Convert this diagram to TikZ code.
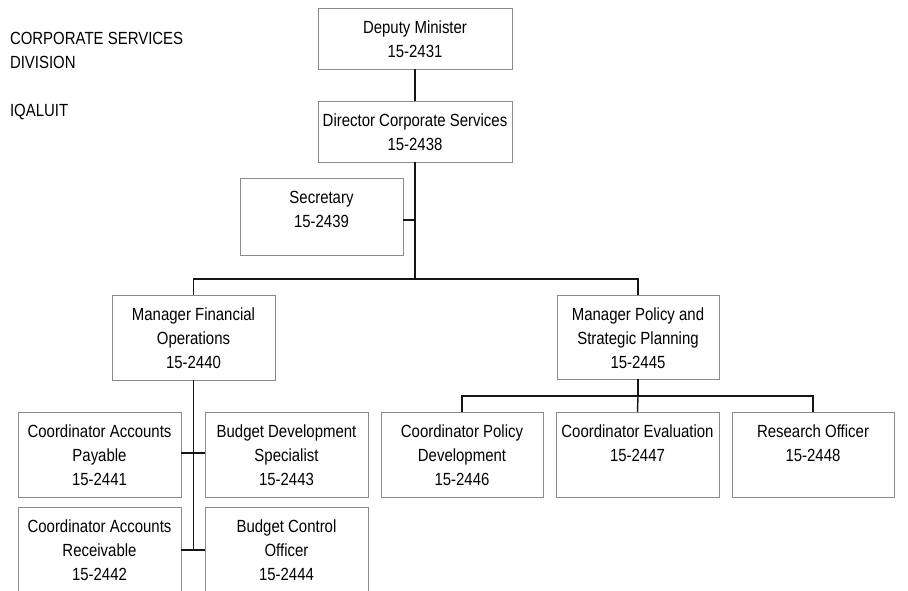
\documentclass[tikz,border=0pt]{standalone}
\usepackage{fontspec}
\setmainfont{Liberation Sans}[FakeStretch=0.85]
\definecolor{boxgray}{HTML}{8A8A8A}
\definecolor{linecol}{HTML}{151515}
\newcommand{\orgtext}[3]{\begin{minipage}[t][#2pt][t]{#1pt}\fontsize{17.6pt}{24pt}\selectfont\centering\rule{0pt}{25.3pt}#3\end{minipage}}
\tikzset{
  orgbox/.style={draw=boxgray, line width=0.9pt, inner sep=0pt, outer sep=0pt, anchor=north west, fill=white},
  conn/.style={draw=linecol, line width=1.4pt},
  titletext/.style={anchor=north west, inner sep=0pt, outer sep=0pt}
}
\begin{document}
\begin{tikzpicture}[x=1pt,y=-1pt]
\useasboundingbox (0,0) rectangle (908,590);
\clip (0,0) rectangle (908,590);
\fill[white] (0,0) rectangle (908,590);

% title
\node[titletext] (title) at (10,18.7) {\orgtext{230}{110}{\raggedright CORPORATE SERVICES\\DIVISION\\[24pt]IQALUIT}};

% boxes
\node[orgbox] (dm)  at (318,8)   {\orgtext{194}{61}{Deputy Minister\\15-2431}};
\node[orgbox] (dir) at (318,101) {\orgtext{194}{61}{Director Corporate Services\\15-2438}};
\node[orgbox] (sec) at (240,178) {\orgtext{163}{77}{Secretary\\15-2439}};
\node[orgbox] (mfo) at (112,295) {\orgtext{163}{85}{Manager Financial\\Operations\\15-2440}};
\node[orgbox] (mps) at (557,295) {\orgtext{162}{84}{Manager Policy and\\Strategic Planning\\15-2445}};
\node[orgbox] (cap) at (18,412)  {\orgtext{163}{85}{Coordinator Accounts\\Payable\\15-2441}};
\node[orgbox] (bds) at (205,412) {\orgtext{163}{85}{Budget Development\\Specialist\\15-2443}};
\node[orgbox] (car) at (18,507)  {\orgtext{163}{86}{Coordinator Accounts\\Receivable\\15-2442}};
\node[orgbox] (bco) at (205,507) {\orgtext{163}{86}{Budget Control\\Officer\\15-2444}};
\node[orgbox] (cpd) at (381,412) {\orgtext{162}{85}{Coordinator Policy\\Development\\15-2446}};
\node[orgbox] (cev) at (556,412) {\orgtext{163}{85}{Coordinator Evaluation\\15-2447}};
\node[orgbox] (ro)  at (732,412) {\orgtext{162}{85}{Research Officer\\15-2448}};

% connectors
\coordinate (bar1) at (415,279);
\coordinate (bar2) at (638,396);
\draw[conn] (dm.south) -- (dir.north);
\draw[conn] (dir.south) -- (bar1);
\draw[conn] ([yshift=-3.5pt]sec.east) -- ([yshift=-3.5pt]sec.east -| dir.south);
\draw[conn] (mfo.north) |- (bar1) -| (mps.north);
\draw[conn] (mfo.south) -- (mfo.south |- car.east);
\draw[conn] ([yshift=1.5pt]cap.east) -- ([yshift=1.5pt]bds.west);
\draw[conn] (car.east) -- (bco.west);
\draw[conn] (mps.south) -- (bar2);
\draw[conn] (cpd.north) |- (bar2) -| (ro.north);
\draw[conn] (bar2) -- (cev.north);
\end{tikzpicture}
\end{document}
